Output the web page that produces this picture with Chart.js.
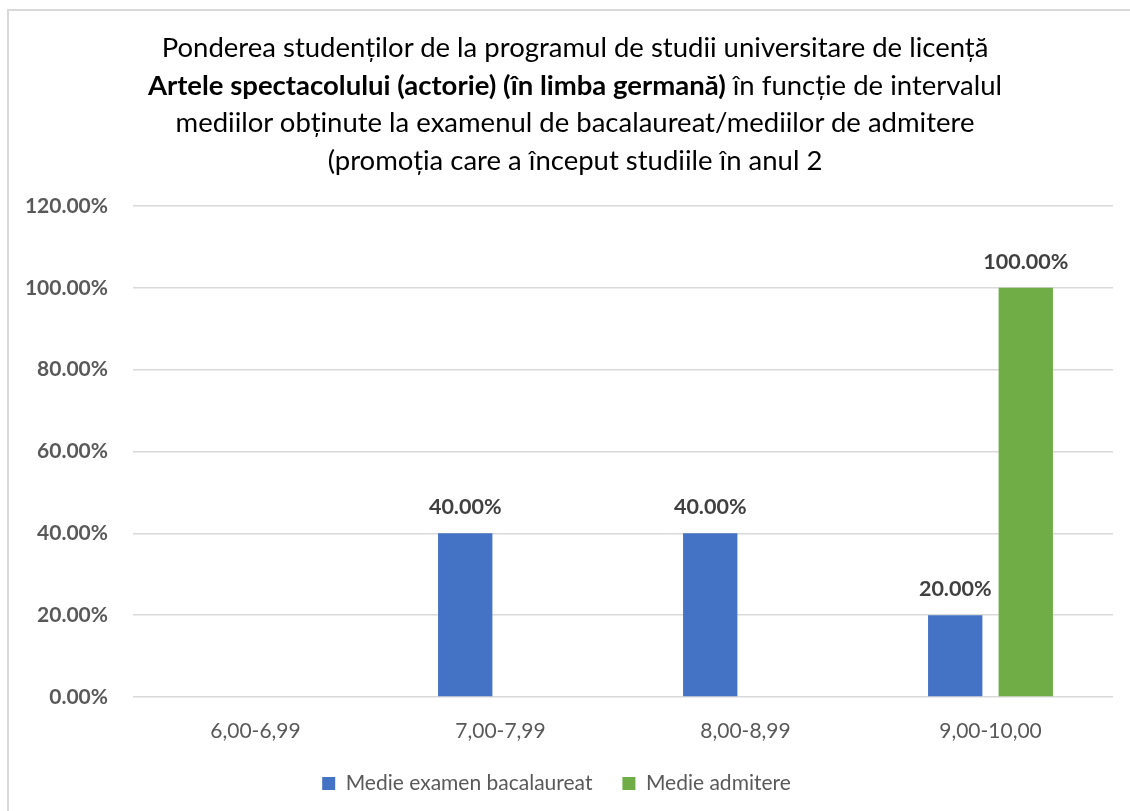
<!DOCTYPE html>
<html lang="ro">
<head>
  <meta charset="UTF-8">
  <title>Ponderea studenților</title>
  <style>
  body {
    margin: 0;
    background: #fff;
    font-family: Lato, "Open Sans", sans-serif;
    width: 1130px;
    height: 811px;
    overflow: hidden;
    position: relative;
  }

  .frame {
    position: absolute;
    left: 7px;
    top: 9px;
    width: 1140px;
    height: 820px;
    border: 2px solid #d9d9d9;
  }

  .title {
    position: absolute;
    left: 0;
    top: 28px;
    width: 1150px;
    text-align: center;
    font-size: 27.5px;
    line-height: 37.7px;
    color: #000;
    z-index: 2;
  }

  #chart {
    position: absolute;
    left: 0;
    top: 0;
  }
  </style>
  <script src="https://cdn.jsdelivr.net/npm/chart.js"></script>
</head>
<body>
  <div class="frame"></div>
  <div class="title">
    Ponderea studenților de la programul de studii universitare de licență<br>
    <b>Artele spectacolului (actorie) (în limba germană)</b> în funcție de intervalul<br>
    mediilor obținute la examenul de bacalaureat/mediilor de admitere<br>
    (promoția care a început studiile în anul 2
  </div>
  <canvas id="chart" width="1130" height="811"></canvas>

  <script>
    // data
    const categories = ['6,00-6,99', '7,00-7,99', '8,00-8,99', '9,00-10,00'];
    const bacValues = [null, 40, 40, 20];      // Medie examen bacalaureat (%)
    const admValues = [null, null, null, 100]; // Medie admitere (%)
    const yTicks = [0, 20, 40, 60, 80, 100, 120];

    const fontFamily = 'Lato, "Open Sans", sans-serif';

    // draws the value over each bar
    const barLabels = {
      id: 'barLabels',
      afterDatasetsDraw(chart) {
        const ctx = chart.ctx;
        ctx.save();
        ctx.font = 'bold 21.5px ' + fontFamily;
        ctx.fillStyle = '#404040';
        ctx.textAlign = 'center';
        ctx.textBaseline = 'middle';
        chart.data.datasets.forEach((ds, i) => {
          const meta = chart.getDatasetMeta(i);
          meta.data.forEach((bar, j) => {
            const v = ds.data[j];
            if (v === null || v === undefined) return;
            ctx.fillText(v.toFixed(2) + '%', bar.x, bar.y - 26);
          });
        });
        ctx.restore();
      }
    };

    new Chart(document.getElementById('chart'), {
      type: 'bar',
      data: {
        labels: categories,
        datasets: [
          {
            label: 'Medie examen bacalaureat',
            data: bacValues,
            backgroundColor: '#4472C4',
            categoryPercentage: 0.576,
            barPercentage: 0.77
          },
          {
            label: 'Medie admitere',
            data: admValues,
            backgroundColor: '#70AD47',
            categoryPercentage: 0.576,
            barPercentage: 0.77
          }
        ]
      },
      options: {
        responsive: false,
        animation: false,
        layout: {
          padding: { left: 0, right: 17, top: 206, bottom: 7 }
        },
        plugins: {
          title: { display: false },
          tooltip: { enabled: false },
          legend: {
            position: 'bottom',
            labels: {
              boxWidth: 13,
              boxHeight: 13,
              padding: 30,
              color: '#595959',
              font: { size: 21, family: fontFamily }
            }
          }
        },
        scales: {
          x: {
            grid: { display: false },
            border: { display: false },
            ticks: {
              color: '#595959',
              padding: 14,
              font: { size: 21, family: fontFamily }
            },
            afterFit(scale) { scale.height = 46; }
          },
          y: {
            min: 0,
            max: 120,
            afterBuildTicks(scale) {
              scale.ticks = yTicks.map(v => ({ value: v }));
            },
            grid: { color: '#d9d9d9', lineWidth: 1.5, drawTicks: false },
            border: { display: false },
            ticks: {
              color: '#595959',
              padding: 25,
              font: { size: 21, weight: 'bold', family: fontFamily },
              callback: v => v.toFixed(2) + '%'
            },
            afterFit(scale) { scale.width = 133; }
          }
        }
      },
      plugins: [barLabels]
    });
  </script>
</body>
</html>
